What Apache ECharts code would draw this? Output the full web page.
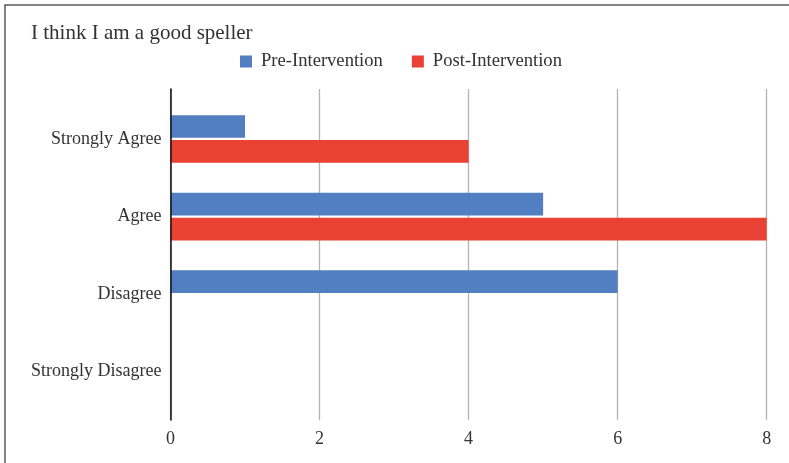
<!DOCTYPE html>
<html>
<head>
<meta charset="utf-8">
<script src="https://cdn.jsdelivr.net/npm/echarts@6/dist/echarts.min.js"></script>
<style>
  html, body { margin: 0; padding: 0; background: #fff; }
  #chart { width: 789px; height: 463px; }
</style>
</head>
<body>
<div id="chart"></div>
<script>
// Survey responses: "I think I am a good speller"
const categories = ['Strongly Agree', 'Agree', 'Disagree', 'Strongly Disagree'];
const preIntervention = [1, 5, 6, 0];
const postIntervention = [4, 8, 0, 0];
const seriesNames = ['Pre-Intervention', 'Post-Intervention'];
const xTicks = [0, 2, 4, 6, 8];

const FONT = '"Liberation Serif", "DejaVu Serif", serif';
const TEXT = '#333';

const chart = echarts.init(document.getElementById('chart'), null, { renderer: 'canvas' });

const plotLeft = 170.5, plotRight = 22.3;

chart.setOption({
  animation: false,
  backgroundColor: '#fff',
  color: ['#527FC1', '#E94235'],
  title: {
    text: 'I think I am a good speller',
    left: 31,
    top: 23,
    padding: 0,
    textStyle: { fontFamily: FONT, fontSize: 21, fontWeight: 'normal', color: TEXT }
  },
  legend: {
    data: seriesNames,
    left: 240,
    top: 52,
    padding: 0,
    itemWidth: 12,
    itemHeight: 12,
    itemGap: 29,
    icon: 'rect',
    textStyle: { fontFamily: FONT, fontSize: 18.6, color: TEXT, padding: [0, 0, 0, 4] }
  },
  graphic: [{
    type: 'rect',
    shape: { x: 5, y: 5, width: 900, height: 600 },
    style: { fill: null, stroke: '#5a5a5a', lineWidth: 1.5 },
    silent: true,
    z: 100
  }],
  grid: [
    // frame grid: gridlines and value labels
    { left: plotLeft, right: plotRight, top: 89, bottom: 43 },
    // bar grid: category bands
    { left: plotLeft, right: plotRight, top: 100.2, bottom: 52.5 }
  ],
  xAxis: [
    {
      gridIndex: 0,
      type: 'value',
      min: xTicks[0],
      max: xTicks[xTicks.length - 1],
      interval: 2,
      axisLine: { show: false },
      axisTick: { show: false },
      axisLabel: { fontFamily: FONT, fontSize: 18, color: TEXT, margin: 10 },
      splitLine: { show: true, lineStyle: { color: '#b3b3b3', width: 1.3 } }
    },
    {
      gridIndex: 1,
      type: 'value',
      min: xTicks[0],
      max: xTicks[xTicks.length - 1],
      show: false
    }
  ],
  yAxis: [
    {
      gridIndex: 0,
      type: 'value',
      min: 0,
      max: 1,
      axisLine: { show: true, lineStyle: { color: '#1a1a1a', width: 1.6 } },
      axisTick: { show: false },
      axisLabel: { show: false },
      splitLine: { show: false },
      z: 10
    },
    {
      gridIndex: 1,
      type: 'category',
      data: categories,
      inverse: true,
      axisLine: { show: false },
      axisTick: { show: false },
      axisLabel: { fontFamily: FONT, fontSize: 18, color: TEXT, margin: 9 },
      splitLine: { show: false }
    }
  ],
  series: [
    {
      name: seriesNames[0],
      type: 'bar',
      xAxisIndex: 1,
      yAxisIndex: 1,
      data: preIntervention,
      barWidth: 22.7,
      barGap: '10%'
    },
    {
      name: seriesNames[1],
      type: 'bar',
      xAxisIndex: 1,
      yAxisIndex: 1,
      data: postIntervention,
      barWidth: 22.7,
      barGap: '10%'
    }
  ]
});
</script>
</body>
</html>
